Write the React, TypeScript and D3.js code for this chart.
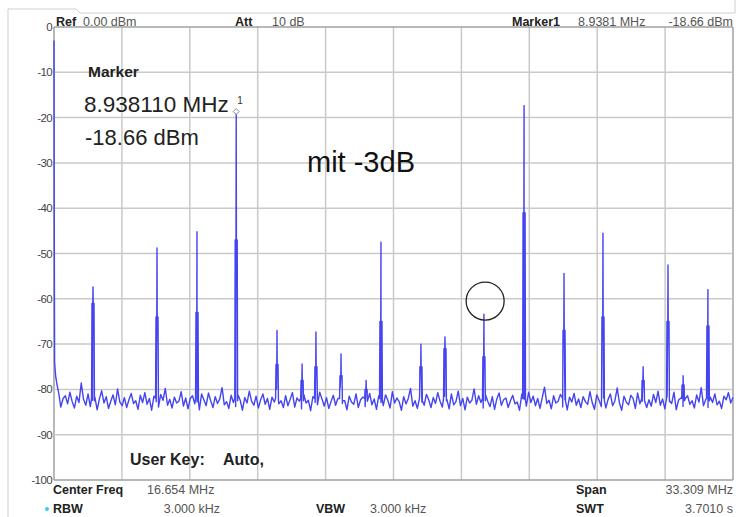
import { useMemo } from 'react';
import * as d3 from 'd3';

// Sweep settings (MHz, dB)
const spanMHz = 33.309;
const yTicks = [0, -10, -20, -30, -40, -50, -60, -70, -80, -90, -100];
const xDivisions = [0, 1, 2, 3, 4, 5, 6, 7, 8, 9, 10];

// Leading edge of the trace: LO feedthrough at 0 Hz
const dcEdge: [number, number][] = [
  [0, -3], [0.01, -38], [0.03, -74], [0.08, -77], [0.15, -79], [0.22, -80.5],
];

// Noise floor samples spread evenly across the span
const noiseFloor = [
  -80.8, -82.3, -81.1, -83.9, -82.0, -81.4, -83.2, -80.6, -82.7, -84.1,
  -81.5, -82.9, -78.6, -82.2, -83.5, -81.0, -83.8, -82.4, -81.7, -84.5,
  -82.1, -80.3, -83.0, -81.6, -84.2, -82.6, -81.2, -83.4, -79.9, -82.8,
  -83.6, -81.8, -84.0, -82.3, -80.9, -83.1, -82.5, -84.4, -81.3, -82.9,
  -80.7, -83.3, -82.0, -84.6, -81.5, -82.7, -83.9, -81.1, -82.4, -79.8,
  -83.5, -82.2, -84.1, -81.7, -83.0, -82.6, -80.5, -83.7, -81.9, -84.3,
  -82.0, -81.4, -83.2, -82.8, -84.5, -81.0, -82.3, -83.6, -80.8, -82.5,
  -84.0, -81.6, -83.1, -82.1, -79.6, -83.4, -82.7, -84.2, -81.3, -82.9,
  -83.8, -81.2, -82.4, -84.6, -81.8, -83.0, -80.4, -82.6, -83.5, -81.5,
  -84.1, -82.3, -81.0, -83.3, -82.0, -84.4, -81.7, -82.8, -79.9, -83.2,
  -82.5, -84.0, -81.4, -83.6, -82.2, -80.7, -83.9, -81.9, -82.6, -84.3,
  -81.1, -83.0, -82.4, -84.7, -81.6, -82.9, -83.4, -80.6, -82.1, -83.7,
  -81.8, -84.2, -82.7, -81.3, -83.5, -82.0, -79.7, -83.1, -82.5, -84.5,
  -81.5, -82.8, -83.3, -81.0, -84.0, -82.3, -81.7, -83.8, -82.6, -80.9,
  -83.4, -82.1, -84.4, -81.4, -82.9, -83.6, -81.2, -82.4, -84.1, -80.5,
  -83.0, -81.9, -82.7, -84.6, -81.6, -83.2, -82.0, -79.8, -83.7, -82.5,
  -84.2, -81.3, -82.8, -83.5, -81.1, -82.3, -84.0, -81.8, -83.1, -80.7,
  -82.6, -83.9, -81.5, -82.2, -84.3, -81.0, -83.4, -82.7, -80.4, -83.6,
  -82.0, -84.5, -81.7, -83.0, -82.4, -79.9, -83.3, -81.4, -82.9, -84.1,
  -81.2, -82.6, -83.8, -81.6, -84.4, -82.1, -80.8, -83.5, -82.3, -81.9,
  -84.0, -82.5, -81.3, -83.2, -82.8, -84.6, -81.0, -82.2, -83.7, -80.6,
  -82.9, -81.5, -83.6, -82.0, -84.2, -81.8, -79.5, -83.1, -82.4, -84.3,
  -81.4, -83.0, -82.6, -81.1, -83.9, -82.3, -84.5, -81.7, -82.8, -80.9,
  -83.5, -82.1, -84.0, -81.6, -82.7, -83.3, -80.5, -82.9, -84.4, -81.2,
  -82.4, -83.8, -81.9, -84.1, -82.2, -81.0, -83.6, -82.5, -79.7, -83.0,
  -84.6, -81.5, -82.8, -83.4, -81.3, -82.0, -84.2, -80.8, -83.2, -82.6,
  -81.8, -84.0, -82.3, -83.7, -81.1, -82.9, -80.4, -83.5, -82.1, -84.3,
  -81.6, -82.7, -83.1, -80.6, -84.5, -82.4, -81.9, -83.8, -82.0, -81.4,
  -83.3, -82.5, -84.1, -81.2, -82.8, -79.6, -83.6, -82.2, -84.0, -81.7,
  -82.9, -81.0, -83.4, -82.6, -84.2, -81.5, -82.3, -80.7, -83.0, -81.8,
];

// Discrete spurs: frequency, peak level, shoulder level
const spurFreq = [1.913, 5.053, 7.015, 8.938, 10.94, 12.17, 12.85, 14.08, 15.31, 16.04,
  18.0, 19.18, 21.09, 23.06, 25.02, 26.93, 28.9, 30.12, 30.86, 32.08];
const spurPeak = [-57.4, -48.8, -45.2, -18.66, -67, -74.4, -67.3, -72.2, -78, -47.5,
  -70, -68.4, -63.4, -17.4, -54.4, -45.5, -75, -52.5, -77, -58];
const spurShoulder = [-61, -64, -63, -47, -74.5, -78, -75, -77, -80, -65,
  -75, -71, -72.8, -41, -67, -64, -78, -65, -79, -66];

const markerFreq = 8.938;
const markerLevel = -18.66;
const circleFreq = 21.15;
const circleLevel = -60.5;

const W = 739;
const H = 517;
const plot = { left: 54, right: 733, top: 27, bottom: 480 };
const font = '"Liberation Sans", Arial, sans-serif';

export default function App() {
  const x = d3.scaleLinear().domain([0, spanMHz]).range([plot.left, plot.right]);
  const y = d3.scaleLinear().domain([-100, 0]).range([plot.bottom, plot.top]);

  const trace = useMemo(() => {
    const pts: [number, number][] = [...dcEdge];
    const step = spanMHz / (noiseFloor.length - 1);
    noiseFloor.forEach((v, i) => {
      const f = i * step;
      if (f > 0.3) pts.push([f, v]);
    });
    spurFreq.forEach((f, i) => {
      const sh = spurShoulder[i];
      pts.push([f - 0.07, -82], [f - 0.05, sh], [f - 0.01, sh], [f, spurPeak[i]],
        [f + 0.01, sh], [f + 0.05, sh], [f + 0.07, -82.5]);
    });
    pts.sort((a, b) => a[0] - b[0]);
    return pts;
  }, []);

  const line = d3.line<[number, number]>()
    .x(d => x(d[0]))
    .y(d => y(d[1]));

  const mx = x(markerFreq);
  const my = y(markerLevel);

  return (
    <div style={{ position: 'fixed', left: 0, top: 0 }}>
      <svg width={W} height={H} style={{ display: 'block', background: '#fff' }} fontFamily={font}>
        {/* outer frame */}
        <path d="M8,517 V9 H76 L80,13 H735 V0" fill="none" stroke="#cfcfcf" strokeWidth={1} />

        {/* grid */}
        {xDivisions.map(i => {
          const gx = plot.left + (i * (plot.right - plot.left)) / 10;
          return (
            <line key={'v' + i} x1={gx} x2={gx} y1={plot.top} y2={plot.bottom}
              stroke={i === 0 || i === 10 ? '#a0a0a0' : '#c9c9c9'} strokeWidth={1.5} />
          );
        })}
        {yTicks.map(t => (
          <line key={'h' + t} x1={plot.left} x2={plot.right} y1={y(t)} y2={y(t)}
            stroke={t === 0 || t === -100 ? '#a0a0a0' : '#c9c9c9'} strokeWidth={1.5} />
        ))}

        {/* y tick labels */}
        {yTicks.map(t => (
          <text key={'l' + t} x={52} y={y(t) + 4} textAnchor="end" fontSize={11.5}
            fill="#444" letterSpacing={-0.6}>{t}</text>
        ))}

        {/* trace */}
        <path d={line(trace) ?? ''} fill="none" stroke="#4444f0" strokeWidth={1.4} strokeLinejoin="round" />

        {/* marker */}
        <path d={`M${mx},${my - 3} L${mx + 3},${my} L${mx},${my + 3} L${mx - 3},${my} Z`}
          fill="#fff" stroke="#888" strokeWidth={1} />
        <text x={mx + 1} y={my - 8} fontSize={10} fill="#333">1</text>

        {/* circle annotation */}
        <circle cx={x(circleFreq)} cy={y(circleLevel)} r={19} fill="none" stroke="#222" strokeWidth={1.3} />

        {/* header */}
        <g fontSize={12.5}>
          <text x={56} y={26} fontWeight="bold" fill="#222">Ref</text>
          <text x={83} y={26} fill="#555">0.00 dBm</text>
          <text x={235} y={26} fontWeight="bold" fill="#222">Att</text>
          <text x={272} y={26} fill="#555">10 dB</text>
          <text x={512} y={26} fontWeight="bold" fill="#222">Marker1</text>
          <text x={578} y={26} fill="#555">8.9381 MHz</text>
          <text x={733} y={26} textAnchor="end" fill="#555">-18.66 dBm</text>
        </g>

        {/* marker readout */}
        <text x={88} y={77} fontSize={15.5} fontWeight="bold" fill="#222">Marker</text>
        <text x={84} y={112} fontSize={22.5} fill="#222">8.938110 MHz</text>
        <text x={85} y={145} fontSize={22} fill="#222">-18.66 dBm</text>

        <text x={307} y={172} fontSize={29} fill="#111">mit -3dB</text>

        <text x={130} y={465} fontSize={16} fontWeight="bold" fill="#222">User Key:</text>
        <text x={223} y={465} fontSize={16} fontWeight="bold" fill="#222">Auto,</text>

        {/* footer */}
        <g fontSize={12.5}>
          <text x={53} y={494} fontWeight="bold" fill="#222">Center Freq</text>
          <text x={147} y={494} fill="#555">16.654 MHz</text>
          <circle cx={47} cy={509} r={2} fill="#33ccee" />
          <text x={53} y={513} fontWeight="bold" fill="#222">RBW</text>
          <text x={220} y={513} textAnchor="end" fill="#555">3.000 kHz</text>
          <text x={316} y={513} fontWeight="bold" fill="#222">VBW</text>
          <text x={370} y={513} fill="#555">3.000 kHz</text>
          <text x={576} y={494} fontWeight="bold" fill="#222">Span</text>
          <text x={733} y={494} textAnchor="end" fill="#555">33.309 MHz</text>
          <text x={576} y={513} fontWeight="bold" fill="#222">SWT</text>
          <text x={733} y={513} textAnchor="end" fill="#555">3.7010 s</text>
        </g>
      </svg>
    </div>
  );
}
